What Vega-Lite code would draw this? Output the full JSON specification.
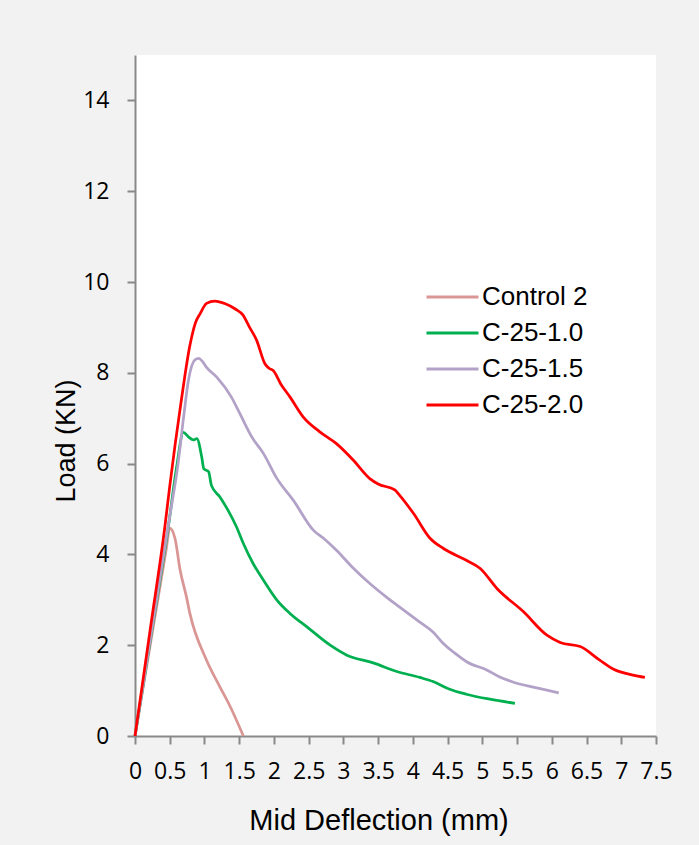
{
  "$schema": "https://vega.github.io/schema/vega-lite/v6.json",
  "autosize": {"type": "none"},
  "padding": {"left": 135, "top": 55, "right": 43, "bottom": 109},
  "width": 521,
  "height": 681,
  "background": "#f2f2f2",
  "view": {"fill": "white", "stroke": null},
  "data": {"values": [
    {"s": "Control 2", "x": 0, "y": 0},
    {"s": "Control 2", "x": 0.25, "y": 2.29},
    {"s": "Control 2", "x": 0.45, "y": 4.12},
    {"s": "Control 2", "x": 0.5, "y": 4.58},
    {"s": "Control 2", "x": 0.576, "y": 4.35},
    {"s": "Control 2", "x": 0.65, "y": 3.65},
    {"s": "Control 2", "x": 0.74, "y": 3.07},
    {"s": "Control 2", "x": 0.79, "y": 2.7},
    {"s": "Control 2", "x": 1.03, "y": 1.67},
    {"s": "Control 2", "x": 1.22, "y": 1.09},
    {"s": "Control 2", "x": 1.37, "y": 0.65},
    {"s": "Control 2", "x": 1.56, "y": 0},

    {"s": "C-25-1.0", "x": 0, "y": 0},
    {"s": "C-25-1.0", "x": 0.24, "y": 2.3},
    {"s": "C-25-1.0", "x": 0.48, "y": 4.61},
    {"s": "C-25-1.0", "x": 0.6, "y": 5.93},
    {"s": "C-25-1.0", "x": 0.696, "y": 6.69},
    {"s": "C-25-1.0", "x": 0.77, "y": 6.59},
    {"s": "C-25-1.0", "x": 0.84, "y": 6.52},
    {"s": "C-25-1.0", "x": 0.89, "y": 6.55},
    {"s": "C-25-1.0", "x": 0.96, "y": 6.15},
    {"s": "C-25-1.0", "x": 0.99, "y": 5.89},
    {"s": "C-25-1.0", "x": 1.06, "y": 5.82},
    {"s": "C-25-1.0", "x": 1.1, "y": 5.52},
    {"s": "C-25-1.0", "x": 1.22, "y": 5.27},
    {"s": "C-25-1.0", "x": 1.34, "y": 4.97},
    {"s": "C-25-1.0", "x": 1.46, "y": 4.61},
    {"s": "C-25-1.0", "x": 1.56, "y": 4.24},
    {"s": "C-25-1.0", "x": 1.7, "y": 3.8},
    {"s": "C-25-1.0", "x": 1.85, "y": 3.43},
    {"s": "C-25-1.0", "x": 2.04, "y": 3.0},
    {"s": "C-25-1.0", "x": 2.23, "y": 2.7},
    {"s": "C-25-1.0", "x": 2.47, "y": 2.41},
    {"s": "C-25-1.0", "x": 2.81, "y": 2.0},
    {"s": "C-25-1.0", "x": 3.05, "y": 1.78},
    {"s": "C-25-1.0", "x": 3.43, "y": 1.61},
    {"s": "C-25-1.0", "x": 3.77, "y": 1.42},
    {"s": "C-25-1.0", "x": 4.1, "y": 1.29},
    {"s": "C-25-1.0", "x": 4.29, "y": 1.2},
    {"s": "C-25-1.0", "x": 4.53, "y": 1.03},
    {"s": "C-25-1.0", "x": 4.77, "y": 0.92},
    {"s": "C-25-1.0", "x": 5.11, "y": 0.81},
    {"s": "C-25-1.0", "x": 5.47, "y": 0.72},

    {"s": "C-25-1.5", "x": 0, "y": 0},
    {"s": "C-25-1.5", "x": 0.25, "y": 2.42},
    {"s": "C-25-1.5", "x": 0.5, "y": 4.83},
    {"s": "C-25-1.5", "x": 0.62, "y": 6.0},
    {"s": "C-25-1.5", "x": 0.7, "y": 7.03},
    {"s": "C-25-1.5", "x": 0.77, "y": 7.84},
    {"s": "C-25-1.5", "x": 0.86, "y": 8.28},
    {"s": "C-25-1.5", "x": 0.92, "y": 8.32},
    {"s": "C-25-1.5", "x": 0.97, "y": 8.25},
    {"s": "C-25-1.5", "x": 1.03, "y": 8.12},
    {"s": "C-25-1.5", "x": 1.18, "y": 7.9},
    {"s": "C-25-1.5", "x": 1.39, "y": 7.46},
    {"s": "C-25-1.5", "x": 1.51, "y": 7.1},
    {"s": "C-25-1.5", "x": 1.68, "y": 6.59},
    {"s": "C-25-1.5", "x": 1.85, "y": 6.22},
    {"s": "C-25-1.5", "x": 2.04, "y": 5.68},
    {"s": "C-25-1.5", "x": 2.28, "y": 5.19},
    {"s": "C-25-1.5", "x": 2.57, "y": 4.53},
    {"s": "C-25-1.5", "x": 2.71, "y": 4.36},
    {"s": "C-25-1.5", "x": 2.9, "y": 4.09},
    {"s": "C-25-1.5", "x": 3.14, "y": 3.7},
    {"s": "C-25-1.5", "x": 3.38, "y": 3.36},
    {"s": "C-25-1.5", "x": 3.62, "y": 3.06},
    {"s": "C-25-1.5", "x": 3.81, "y": 2.84},
    {"s": "C-25-1.5", "x": 4.1, "y": 2.51},
    {"s": "C-25-1.5", "x": 4.29, "y": 2.29},
    {"s": "C-25-1.5", "x": 4.43, "y": 2.05},
    {"s": "C-25-1.5", "x": 4.6, "y": 1.83},
    {"s": "C-25-1.5", "x": 4.78, "y": 1.63},
    {"s": "C-25-1.5", "x": 5.07, "y": 1.45},
    {"s": "C-25-1.5", "x": 5.25, "y": 1.3},
    {"s": "C-25-1.5", "x": 5.44, "y": 1.19},
    {"s": "C-25-1.5", "x": 5.75, "y": 1.07},
    {"s": "C-25-1.5", "x": 6.1, "y": 0.95},

    {"s": "C-25-2.0", "x": 0, "y": 0},
    {"s": "C-25-2.0", "x": 0.22, "y": 2.36},
    {"s": "C-25-2.0", "x": 0.43, "y": 4.61},
    {"s": "C-25-2.0", "x": 0.5, "y": 5.5},
    {"s": "C-25-2.0", "x": 0.66, "y": 7.32},
    {"s": "C-25-2.0", "x": 0.79, "y": 8.6},
    {"s": "C-25-2.0", "x": 0.87, "y": 9.1},
    {"s": "C-25-2.0", "x": 0.94, "y": 9.31},
    {"s": "C-25-2.0", "x": 1.03, "y": 9.53},
    {"s": "C-25-2.0", "x": 1.15, "y": 9.58},
    {"s": "C-25-2.0", "x": 1.3, "y": 9.52},
    {"s": "C-25-2.0", "x": 1.45, "y": 9.4},
    {"s": "C-25-2.0", "x": 1.55, "y": 9.28},
    {"s": "C-25-2.0", "x": 1.65, "y": 9.0},
    {"s": "C-25-2.0", "x": 1.75, "y": 8.72},
    {"s": "C-25-2.0", "x": 1.87, "y": 8.2},
    {"s": "C-25-2.0", "x": 1.93, "y": 8.1},
    {"s": "C-25-2.0", "x": 1.99, "y": 8.05},
    {"s": "C-25-2.0", "x": 2.1, "y": 7.75},
    {"s": "C-25-2.0", "x": 2.23, "y": 7.47},
    {"s": "C-25-2.0", "x": 2.42, "y": 7.03},
    {"s": "C-25-2.0", "x": 2.66, "y": 6.7},
    {"s": "C-25-2.0", "x": 2.9, "y": 6.44},
    {"s": "C-25-2.0", "x": 3.14, "y": 6.08},
    {"s": "C-25-2.0", "x": 3.38, "y": 5.67},
    {"s": "C-25-2.0", "x": 3.5, "y": 5.55},
    {"s": "C-25-2.0", "x": 3.74, "y": 5.42},
    {"s": "C-25-2.0", "x": 3.81, "y": 5.3},
    {"s": "C-25-2.0", "x": 4.01, "y": 4.9},
    {"s": "C-25-2.0", "x": 4.25, "y": 4.35},
    {"s": "C-25-2.0", "x": 4.44, "y": 4.13},
    {"s": "C-25-2.0", "x": 4.77, "y": 3.87},
    {"s": "C-25-2.0", "x": 4.97, "y": 3.69},
    {"s": "C-25-2.0", "x": 5.21, "y": 3.25},
    {"s": "C-25-2.0", "x": 5.59, "y": 2.74},
    {"s": "C-25-2.0", "x": 5.93, "y": 2.22},
    {"s": "C-25-2.0", "x": 6.12, "y": 2.06},
    {"s": "C-25-2.0", "x": 6.41, "y": 1.97},
    {"s": "C-25-2.0", "x": 6.69, "y": 1.67},
    {"s": "C-25-2.0", "x": 6.89, "y": 1.47},
    {"s": "C-25-2.0", "x": 7.17, "y": 1.34},
    {"s": "C-25-2.0", "x": 7.34, "y": 1.29}
  ]},
  "mark": {"type": "line", "interpolate": "monotone", "strokeWidth": 2.75},
  "encoding": {
    "x": {
      "field": "x", "type": "quantitative",
      "scale": {"domain": [0, 7.5], "nice": false, "zero": false},
      "axis": {
        "title": "Mid Deflection (mm)",
        "values": [0, 0.5, 1, 1.5, 2, 2.5, 3, 3.5, 4, 4.5, 5, 5.5, 6, 6.5, 7, 7.5],
        "format": "~g",
        "grid": false,
        "titleFontSize": 29,
        "titleX": 243.5, "titleY": 93, "titleAlign": "center", "titleBaseline": "alphabetic",
        "labelFlush": false, "labelOverlap": false, "labelPadding": 16
      }
    },
    "y": {
      "field": "y", "type": "quantitative",
      "scale": {"domain": [0, 15], "nice": false},
      "axis": {
        "title": "Load (KN)",
        "values": [0, 2, 4, 6, 8, 10, 12, 14],
        "grid": false,
        "titleFontSize": 27,
        "titleAngle": -90, "titleX": -61, "titleY": 385.5, "titleAlign": "center", "titleBaseline": "alphabetic",
        "labelPadding": 18
      }
    },
    "color": {
      "field": "s", "type": "nominal",
      "scale": {"domain": ["Control 2", "C-25-1.0", "C-25-1.5", "C-25-2.0"], "range": ["#d99694", "#00b050", "#b3a2c7", "#ff0000"]},
      "legend": {
        "title": null, "orient": "none", "legendX": 290, "legendY": 227,
        "symbolType": "stroke", "symbolSize": 2704, "symbolStrokeWidth": 3,
        "labelFont": "Liberation Sans", "labelFontSize": 26, "labelColor": "black",
        "labelOffset": 2, "rowPadding": 6, "clipHeight": 30, "padding": 0
      }
    },
    "order": {"field": "x", "type": "quantitative"}
  },
  "config": {
    "axis": {
      "domainColor": "#898989", "domainWidth": 2,
      "tickColor": "#898989", "tickWidth": 2, "tickSize": 8,
      "labelFont": "Open Sans", "labelFontSize": 23, "labelColor": "black",
      "titleFont": "Liberation Sans", "titleFontWeight": "normal", "titleColor": "black"
    }
  }
}
